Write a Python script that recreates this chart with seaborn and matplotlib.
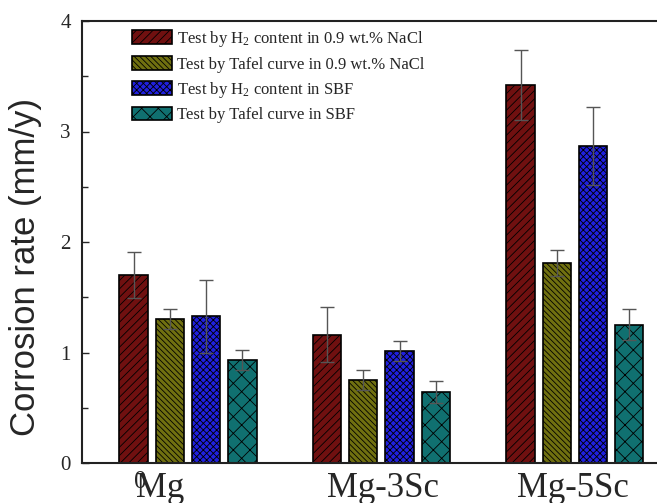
import numpy as np
import pandas as pd
import matplotlib
matplotlib.use("Agg")
import matplotlib.pyplot as plt
import seaborn as sns

alloys = ["Mg", "Mg-3Sc", "Mg-5Sc"]
series = [
    "Test by H$_2$ content in 0.9 wt.% NaCl",
    "Test by Tafel curve in 0.9 wt.% NaCl",
    "Test by H$_2$ content in SBF",
    "Test by Tafel curve in SBF",
]
h2_nacl = [1.70, 1.16, 3.42]
tafel_nacl = [1.30, 0.75, 1.81]
h2_sbf = [1.33, 1.01, 2.87]
tafel_sbf = [0.93, 0.64, 1.25]
err_h2_nacl = [0.21, 0.25, 0.32]
err_tafel_nacl = [0.09, 0.09, 0.12]
err_h2_sbf = [0.33, 0.09, 0.35]
err_tafel_sbf = [0.09, 0.10, 0.14]

colors = ["#800000", "#808000", "#0000FF", "#008080"]
hatches = ["////", "\\\\\\\\\\\\", "xxxxx", "xx"]

sns.set_style("ticks")
plt.rcParams["font.family"] = ["Liberation Serif", "DejaVu Serif"]
plt.rcParams["mathtext.fontset"] = "custom"
plt.rcParams["mathtext.rm"] = "Liberation Serif"
plt.rcParams["mathtext.it"] = "Liberation Serif:italic"
plt.rcParams["hatch.linewidth"] = 0.6

vals = [h2_nacl, tafel_nacl, h2_sbf, tafel_sbf]
errs = [err_h2_nacl, err_tafel_nacl, err_h2_sbf, err_tafel_sbf]
rows = []
for s, v, e in zip(series, vals, errs):
    for a, vv, ee in zip(alloys, v, e):
        rows.append({"alloy": a, "series": s, "rate": vv, "err": ee})
df = pd.DataFrame(rows)

fig = plt.figure(figsize=(6.57, 5.03), dpi=100)
ax = fig.add_axes([82/657, 1-463/503, 609/657, 442/503])

sns.barplot(data=df, x="alloy", y="rate", hue="series", hue_order=series,
            palette=colors, width=0.75, gap=0.22, errorbar=None,
            edgecolor="black", linewidth=1.2, ax=ax, zorder=2)

n = len(alloys)
bars = [p for p in ax.patches if p.get_height() > 0][: n * len(series)]
for i, s in enumerate(series):
    for j in range(n):
        p = bars[i * n + j]
        p.set_hatch(hatches[i])
        cx = p.get_x() + p.get_width() / 2
        ax.errorbar(cx, p.get_height(), yerr=errs[i][j], fmt="none",
                    ecolor="#555555", elinewidth=1.0, capsize=5, capthick=1.0,
                    zorder=3)

ax.set_xlim(-0.548, 2.6)
ax.set_ylim(0, 4)
ax.set_yticks([0, 1, 2, 3, 4])
ax.set_yticks([0.5, 1.5, 2.5, 3.5], minor=True)
ax.tick_params(axis="y", which="major", direction="in", length=5, width=1,
               labelsize=15, pad=8)
ax.tick_params(axis="y", which="minor", direction="in", length=4, width=1)
ax.set_xticks([-0.248, 1.245])
ax.set_xticklabels(["0", ""])
ax.tick_params(axis="x", which="major", direction="in", length=8, width=1,
               labelsize=18, pad=6)
ax.set_xlabel("")
ax.set_ylabel("Corrosion rate (mm/y)", fontsize=25, family="Liberation Sans")
ax.yaxis.set_label_coords(-0.066, 0.443)

for spine in ["left", "bottom", "top"]:
    ax.spines[spine].set_linewidth(1.5)
    ax.spines[spine].set_color("#222222")
ax.spines["right"].set_visible(False)

label_x = [-0.145, 1.008, 1.99]
for lx, lab in zip(label_x, alloys):
    ax.text(lx, -0.02, lab, transform=ax.get_xaxis_transform(), ha="center",
            va="top", fontsize=25)

leg = ax.legend(loc="upper left", bbox_to_anchor=(0.082, 0.982), frameon=False,
                fontsize=12, handlelength=2.4, handleheight=0.9,
                handletextpad=0.3, labelspacing=0.42, borderpad=0,
                borderaxespad=0)
for h, hat in zip(leg.legend_handles, hatches):
    h.set_hatch(hat)
    h.set_edgecolor("black")

fig.savefig("out.png", dpi=100)
